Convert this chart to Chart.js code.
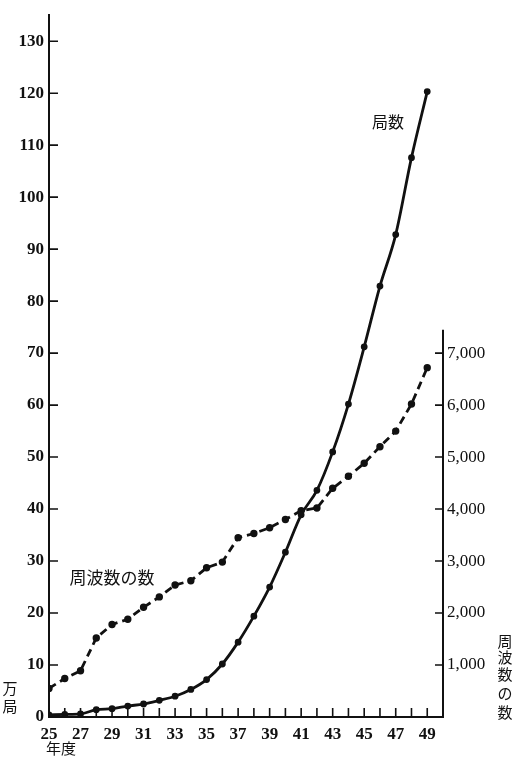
<!DOCTYPE html>
<html lang="ja">
<head>
    <meta charset="UTF-8">
    <script src="https://cdn.jsdelivr.net/npm/chart.js"></script>
    <title>局数と周波数の数</title>
    <style>
        body { margin: 0; background: #fff; }
        #box { width: 514px; height: 757px; }
    </style>
</head>
<body>
    <div id="box">
        <canvas id="grafico"></canvas>
    </div>

    <script>
        // 年度 (昭和)
        const nendo = [25, 26, 27, 28, 29, 30, 31, 32, 33, 34, 35, 36, 37, 38, 39, 40, 41, 42, 43, 44, 45, 46, 47, 48, 49]
        // 局数 (万局)
        const kyokusu = [0.4, 0.5, 0.6, 1.4, 1.6, 2.1, 2.5, 3.2, 4.0, 5.3, 7.2, 10.2, 14.4, 19.4, 25.0, 31.7, 38.9, 43.6, 51.0, 60.2, 71.2, 82.9, 92.8, 107.6, 120.3]
        // 周波数の数
        const shuhasu = [550, 740, 890, 1520, 1780, 1880, 2110, 2310, 2540, 2620, 2870, 2980, 3450, 3530, 3640, 3800, 3970, 4020, 4400, 4630, 4880, 5200, 5500, 6020, 6720]
        // 目盛
        const leftTicks = [0, 10, 20, 30, 40, 50, 60, 70, 80, 90, 100, 110, 120, 130]
        const rightTicks = [1000, 2000, 3000, 4000, 5000, 6000, 7000]
        const yearLabels = [25, 27, 29, 31, 33, 35, 37, 39, 41, 43, 45, 47, 49]

        const serif = "'Liberation Serif', 'DejaVu Serif', serif"
        const jp = "'Noto Sans CJK JP', sans-serif"

        const comma = v => String(v).replace(/\B(?=(\d{3})+$)/g, ',')

        const extras = {
            id: 'extras',
            afterDraw(chart) {
                const c = chart.ctx
                const a = chart.chartArea
                const x = chart.scales.x
                const y = chart.scales.y
                const y2 = chart.scales.y2
                c.save()
                c.strokeStyle = '#111'
                c.lineWidth = 2
                // 右の軸
                c.beginPath()
                c.moveTo(a.right, y2.getPixelForValue(0))
                c.lineTo(a.right, y2.getPixelForValue(7450))
                c.stroke()
                // 内向きの目盛
                c.lineWidth = 1.6
                c.beginPath()
                leftTicks.forEach(v => {
                    const p = y.getPixelForValue(v)
                    c.moveTo(a.left, p); c.lineTo(a.left + 9, p)
                })
                rightTicks.forEach(v => {
                    const p = y2.getPixelForValue(v)
                    c.moveTo(a.right - 8, p); c.lineTo(a.right, p)
                })
                nendo.forEach(v => {
                    const p = x.getPixelForValue(v)
                    c.moveTo(p, a.bottom); c.lineTo(p, a.bottom - 9)
                })
                c.stroke()

                // 文字
                c.fillStyle = '#111'
                c.textAlign = 'center'
                c.textBaseline = 'middle'
                c.font = '16px ' + jp
                c.fillText('局数', 388, 122)
                c.font = '17px ' + jp
                c.fillText('周波数の数', 112, 578)
                c.font = '15px ' + jp
                c.fillText('年度', 61, 748)
                c.fillText('万', 10, 688)
                c.fillText('局', 10, 706)
                const tate = ['周', '波', '数', 'の', '数']
                const ty = [641, 657, 674, 693, 712]
                tate.forEach((ch, i) => c.fillText(ch, 505, ty[i]))
                c.restore()
            }
        }

        new Chart(document.getElementById('grafico'), {
            type: 'line',
            data: {
                datasets: [{
                    label: '局数',
                    data: nendo.map((n, i) => ({ x: n, y: kyokusu[i] })),
                    yAxisID: 'y',
                    borderColor: '#111',
                    backgroundColor: '#111',
                    borderWidth: 2.8,
                    pointRadius: 2,
                    pointHoverRadius: 2,
                    cubicInterpolationMode: 'monotone'
                }, {
                    label: '周波数の数',
                    data: nendo.map((n, i) => ({ x: n, y: shuhasu[i] })),
                    yAxisID: 'y2',
                    borderColor: '#111',
                    backgroundColor: '#111',
                    borderWidth: 2.8,
                    borderDash: [8, 5],
                    pointRadius: 2.3,
                    pointHoverRadius: 2.3,
                    tension: 0
                }]
            },
            options: {
                responsive: true,
                maintainAspectRatio: false,
                animation: false,
                layout: { padding: { top: 5, left: 0, right: 0, bottom: 0 } },
                plugins: {
                    legend: { display: false },
                    tooltip: { enabled: false }
                },
                scales: {
                    x: {
                        type: 'linear',
                        min: 25,
                        max: 50,
                        grid: { display: false, drawTicks: false },
                        border: { display: true, color: '#111', width: 2 },
                        afterBuildTicks: s => { s.ticks = yearLabels.map(v => ({ value: v })) },
                        ticks: {
                            autoSkip: false,
                            maxRotation: 0,
                            padding: 7,
                            color: '#111',
                            font: { family: serif, size: 17, weight: 'bold' },
                            callback: v => String(v)
                        },
                        afterFit: s => { s.height = 40 }
                    },
                    y: {
                        position: 'left',
                        min: 0,
                        max: 135,
                        grid: { display: false, drawTicks: false },
                        border: { display: true, color: '#111', width: 2 },
                        afterBuildTicks: s => { s.ticks = leftTicks.map(v => ({ value: v })) },
                        ticks: {
                            autoSkip: false,
                            padding: 5,
                            color: '#111',
                            font: { family: serif, size: 17, weight: 'bold' },
                            callback: v => String(v)
                        },
                        afterFit: s => { s.width = 49 }
                    },
                    y2: {
                        position: 'right',
                        min: 0,
                        max: 13500,
                        grid: { display: false, drawTicks: false },
                        border: { display: false },
                        afterBuildTicks: s => { s.ticks = rightTicks.map(v => ({ value: v })) },
                        ticks: {
                            autoSkip: false,
                            padding: 4,
                            color: '#111',
                            font: { family: serif, size: 17 },
                            callback: v => comma(v)
                        },
                        afterFit: s => { s.width = 71 }
                    }
                }
            },
            plugins: [extras]
        })
    </script>
</body>
</html>
